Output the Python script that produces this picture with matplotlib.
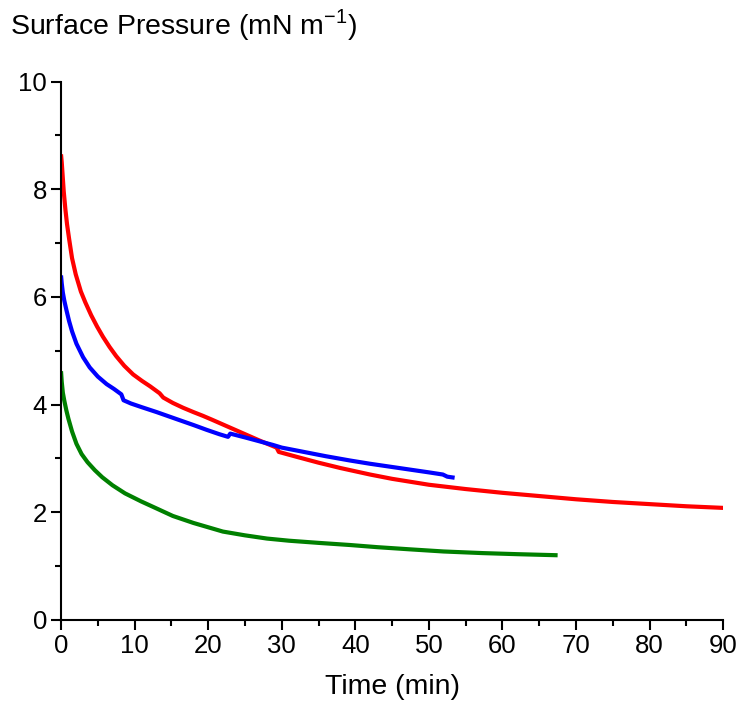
import matplotlib
matplotlib.use("Agg")
import matplotlib.pyplot as plt
from matplotlib.ticker import MultipleLocator

plt.rcParams['font.family'] = ['Liberation Sans', 'DejaVu Sans']
plt.rcParams['mathtext.fontset'] = 'custom'
plt.rcParams['mathtext.rm'] = 'Liberation Sans'

# Red series
red_t = [0.0, 0.1, 0.2, 0.37, 0.6, 0.82, 1.1, 1.5, 2.0, 2.7, 3.3, 4.1, 4.9, 5.7, 6.6, 7.5, 8.6, 9.8, 11.0,
         12.1, 13.4, 13.9, 15.2, 16.6, 18.0, 19.3, 20.5, 22.0, 23.5, 25.0, 27.0, 29.3, 29.6, 32.0, 35.0, 38.0,
         40.0, 42.0, 45.0, 50.0, 55.0, 60.0, 65.0, 70.0, 75.0, 80.0, 85.0, 90.0]
red_y = [8.65, 8.5, 8.3, 7.96, 7.62, 7.35, 7.08, 6.72, 6.42, 6.1, 5.9, 5.66, 5.45, 5.26, 5.07, 4.9, 4.72,
         4.56, 4.44, 4.34, 4.21, 4.13, 4.03, 3.94, 3.86, 3.79, 3.72, 3.63, 3.54, 3.45, 3.33, 3.2, 3.12, 3.03,
         2.92, 2.82, 2.76, 2.7, 2.62, 2.51, 2.43, 2.36, 2.3, 2.24, 2.19, 2.15, 2.11, 2.08]

# Blue series
blue_t = [0.0, 0.1, 0.25, 0.45, 0.73, 1.1, 1.5, 2.1, 3.0, 3.9, 5.0, 6.2, 7.2, 8.2, 8.5, 9.5, 11.0, 13.0,
          15.7, 18.0, 19.8, 21.5, 22.7, 23.0, 25.0, 28.8, 30.0, 33.0, 36.0, 39.3, 42.0, 45.0, 48.0, 50.0,
          51.9, 52.5, 53.5]
blue_y = [6.4, 6.25, 6.08, 5.93, 5.76, 5.55, 5.36, 5.13, 4.88, 4.69, 4.52, 4.38, 4.29, 4.19, 4.08, 4.02,
          3.95, 3.86, 3.73, 3.62, 3.53, 3.45, 3.4, 3.46, 3.39, 3.25, 3.2, 3.12, 3.04, 2.96, 2.9, 2.84, 2.78,
          2.74, 2.7, 2.66, 2.64]

# Green series
green_t = [0.0, 0.1, 0.25, 0.45, 0.73, 1.0, 1.5, 2.1, 2.8, 3.6, 4.6, 5.6, 7.0, 8.7, 10.9, 12.5, 15.2, 18.0,
           22.0, 25.0, 28.0, 31.0, 35.0, 39.3, 43.0, 47.4, 52.0, 57.3, 62.0, 67.5]
green_y = [4.62, 4.42, 4.22, 4.07, 3.89, 3.74, 3.5, 3.27, 3.08, 2.93, 2.78, 2.65, 2.5, 2.35, 2.2, 2.1, 1.93,
           1.8, 1.64, 1.57, 1.51, 1.47, 1.43, 1.39, 1.35, 1.31, 1.27, 1.24, 1.22, 1.2]

xticks = [0, 10, 20, 30, 40, 50, 60, 70, 80, 90]
yticks = [0, 2, 4, 6, 8, 10]

fig = plt.figure(figsize=(7.44, 7.10), dpi=100)
ax = fig.add_axes([0.082, 0.127, 0.890, 0.758])

lw = 3.0
ax.plot(red_t, red_y, color='#ff0000', lw=lw, solid_capstyle='butt')
ax.plot(blue_t, blue_y, color='#0000ff', lw=lw, solid_capstyle='butt')
ax.plot(green_t, green_y, color='#008000', lw=lw, solid_capstyle='butt')

ax.set_xlim(0, 90)
ax.set_ylim(0, 10)
ax.set_xticks(xticks)
ax.set_yticks(yticks)
ax.xaxis.set_minor_locator(MultipleLocator(5))
ax.yaxis.set_minor_locator(MultipleLocator(1))
for s in ['top', 'right']:
    ax.spines[s].set_visible(False)
for s in ['left', 'bottom']:
    ax.spines[s].set_linewidth(1.5)
ax.tick_params(which='major', direction='out', length=7, width=1.5, labelsize=18.5, pad=3)
ax.tick_params(which='minor', direction='out', length=4, width=1.5)

ax.set_xlabel('Time (min)', fontsize=20.5, labelpad=12)
fig.text(0.013, 0.965, r'Surface Pressure (mN m$^{\mathregular{-1}}$)', fontsize=20.5, ha='left', va='center')

fig.savefig('out.png', dpi=100)
